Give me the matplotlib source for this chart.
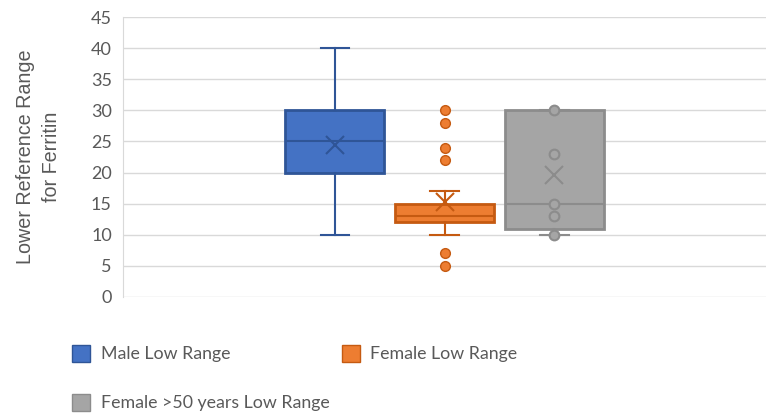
import matplotlib
matplotlib.use("Agg")
import matplotlib.pyplot as plt
from matplotlib.patches import Patch

# series
series = ["Male Low Range", "Female Low Range", "Female >50 years Low Range"]
whisker_low = [10, 10, 10]
q1 = [20, 12, 11]
median = [25, 13, 15]
q3 = [30, 15, 30]
whisker_high = [40, 17, 30]
mean = [24.5, 15.2, 19.6]
outliers = [[], [30, 28, 24, 22, 7, 5], []]
inner_points = [[], [], [30, 23, 15, 13, 10]]

fills = ["#4472C4", "#ED7D31", "#A5A5A5"]
edges = ["#2F5597", "#C55A11", "#8C8C8C"]
positions = [-1, 0, 1]

fig = plt.figure(figsize=(7.68, 4.17), dpi=100)
ax = fig.add_axes([0.160, 0.288, 0.838, 0.671])

for i in range(len(series)):
    stats = [dict(med=median[i], q1=q1[i], q3=q3[i], whislo=whisker_low[i],
                  whishi=whisker_high[i], mean=mean[i], fliers=outliers[i])]
    ax.bxp(stats, positions=[positions[i]], widths=0.9, showmeans=True,
           patch_artist=True, zorder=3,
           boxprops=dict(facecolor=fills[i], edgecolor=edges[i], linewidth=2),
           medianprops=dict(color=edges[i], linewidth=1.5),
           whiskerprops=dict(color=edges[i], linewidth=1.5),
           capprops=dict(color=edges[i], linewidth=1.5),
           capwidths=0.26,
           meanprops=dict(marker="x", markersize=13, markeredgecolor=edges[i],
                          markeredgewidth=1.5),
           flierprops=dict(marker="o", markersize=7, markerfacecolor=fills[i],
                           markeredgecolor=edges[i], markeredgewidth=1))
    if inner_points[i]:
        ax.plot([positions[i]] * len(inner_points[i]), inner_points[i], "o",
                markersize=7, markerfacecolor=fills[i], markeredgecolor=edges[i],
                markeredgewidth=1.5, zorder=4)

ax.set_xlim(-2.93, 2.93)
ax.set_ylim(0, 45)
ax.set_yticks(range(0, 46, 5))
ax.set_xticks([])
ax.grid(axis="y", color="#D9D9D9", linewidth=1, zorder=0)
ax.set_axisbelow(True)
for s in ["top", "right", "bottom"]:
    ax.spines[s].set_visible(False)
ax.spines["left"].set_color("#D9D9D9")
ax.tick_params(axis="y", length=0, pad=8, labelsize=13, labelcolor="#595959")
for lab in ax.get_yticklabels():
    lab.set_family("Lato")

ax.set_ylabel("Lower Reference Range\nfor Ferritin", fontsize=14.2,
              color="#595959", family="Liberation Sans", linespacing=1.45)
ax.yaxis.set_label_coords(-0.096, 0.5)

handles = [Patch(facecolor=fills[0], edgecolor=edges[0], label=series[0]),
           Patch(facecolor=fills[2], edgecolor=edges[2], label=series[2]),
           Patch(facecolor=fills[1], edgecolor=edges[1], label=series[1])]
fig.legend(handles=handles, ncol=2, loc="upper left",
           bbox_to_anchor=(0.085, 0.19), frameon=False,
           prop=dict(family="Lato", size=12.8), labelcolor="#595959",
           handlelength=1.0, handleheight=1.1, handletextpad=0.6,
           columnspacing=0.7, labelspacing=1.75, borderaxespad=0)

fig.savefig("out.png", dpi=100)
